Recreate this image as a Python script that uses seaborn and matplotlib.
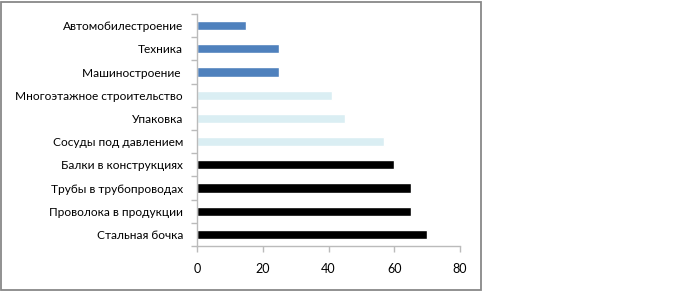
import matplotlib
matplotlib.use("Agg")
import matplotlib.pyplot as plt
import seaborn as sns
import pandas as pd
from matplotlib.patches import Rectangle

categories = ["Автомобилестроение", "Техника", "Машиностроение ",
              "Многоэтажное строительство", "Упаковка", "Сосуды под давлением",
              "Балки в конструкциях", "Трубы в трубопроводах",
              "Проволока в продукции", "Стальная бочка"]
values = [15, 25, 25, 41, 45, 57, 60, 65, 65, 70]
bar_colors = ["#4F81BD", "#4F81BD", "#4F81BD",
              "#DAEEF3", "#DAEEF3", "#DAEEF3",
              "#000000", "#000000", "#000000", "#000000"]
x_ticks = [0, 20, 40, 60, 80]

sns.set_theme(style="white")
plt.rcParams['font.family'] = ['Lato', 'DejaVu Sans']

df = pd.DataFrame({"cat": categories, "val": values})

fig = plt.figure(figsize=(6.8, 2.91), dpi=100)
ax = fig.add_axes([197/680, 45/291, 263/680, 232/291])

sns.barplot(data=df, y="cat", x="val", hue="cat", palette=bar_colors,
            order=categories, hue_order=categories, legend=False,
            width=0.4, ax=ax, saturation=1)

ax.set_xlim(0, 80)
ax.set_ylim(len(categories) - 0.5, -0.5)
ax.set_xticks(x_ticks)
ax.set_xlabel("")
ax.set_ylabel("")

axis_col = "#BBBBBB"
for s in ["top", "right"]:
    ax.spines[s].set_visible(False)
for s in ["left", "bottom"]:
    ax.spines[s].set_color(axis_col)
    ax.spines[s].set_linewidth(1.0)

ax.set_yticks([i + 0.5 for i in range(-1, len(categories))], minor=True)
ax.tick_params(axis="y", which="major", length=0, pad=10, labelsize=8.6, labelcolor="#000000")
ax.tick_params(axis="y", which="minor", left=True, length=4, color=axis_col, width=1)
ax.tick_params(axis="x", which="major", bottom=True, length=4, color=axis_col, width=1,
               pad=8, labelsize=9, labelcolor="#000000")

fig.patches.append(Rectangle((1/680, 1/291), 480/680, 288/291, transform=fig.transFigure,
                             fill=False, edgecolor="#888888", linewidth=1.3))

fig.savefig("out.png", dpi=100)
